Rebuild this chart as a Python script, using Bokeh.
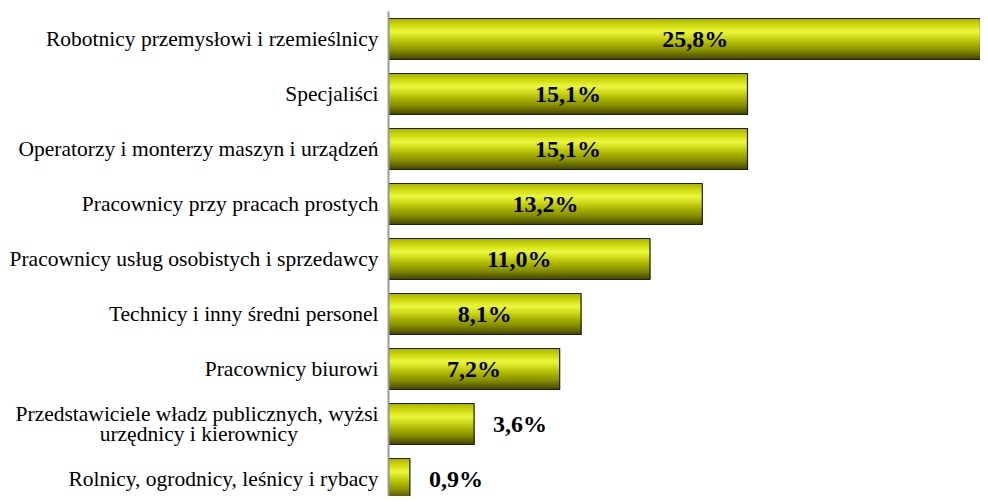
from bokeh.plotting import figure
from bokeh.models import Range1d, ColumnDataSource
from bokeh.core.properties import value
from bokeh.embed import file_html
from bokeh.resources import INLINE

categories = [
    "Robotnicy przemysłowi i rzemieślnicy",
    "Specjaliści",
    "Operatorzy i monterzy maszyn i urządzeń",
    "Pracownicy przy pracach prostych",
    "Pracownicy usług osobistych i sprzedawcy",
    "Technicy i inny średni personel",
    "Pracownicy biurowi",
    "Przedstawiciele władz publicznych, wyżsi\nurzędnicy i kierownicy" + "\u00a0" * 15,
    "Rolnicy, ogrodnicy, leśnicy i rybacy",
]
values = [25.8, 15.1, 15.1, 13.2, 11.0, 8.1, 7.2, 3.6, 0.9]
labels = ["25,8%", "15,1%", "15,1%", "13,2%", "11,0%", "8,1%", "7,2%", "3,6%", "0,9%"]

SERIF = "Liberation Serif"
BAR_H = 0.745
idx = list(range(len(values)))

p = figure(width=980, height=496, output_backend="svg", toolbar_location=None,
           x_range=Range1d(0, 24.9), y_range=Range1d(8.318, -0.5),
           x_axis_location=None, min_border_left=388, min_border_right=0,
           min_border_top=11, min_border_bottom=0)
p.outline_line_color = None
p.grid.visible = False
p.background_fill_color = "white"

# cylinder-like gradient emulated by overlapping strips
stops = [(0.00, (0xa8, 0xb2, 0x00)), (0.15, (0xcc, 0xd8, 0x0a)), (0.32, (0xea, 0xf6, 0x40)),
         (0.46, (0xce, 0xda, 0x1a)), (0.62, (0xaa, 0xb2, 0x00)), (0.78, (0x86, 0x8e, 0x00)),
         (0.92, (0x5a, 0x60, 0x00)), (1.00, (0x40, 0x44, 0x00))]

def col(t):
    for (a, ca), (b, cb) in zip(stops[:-1], stops[1:]):
        if a <= t <= b:
            f = (t - a) / (b - a)
            return "#%02x%02x%02x" % tuple(int(round(x + (y - x) * f)) for x, y in zip(ca, cb))
    return "#%02x%02x%02x" % stops[-1][1]

N = 30
for k in range(N):
    t0 = k / N
    top = [i - BAR_H / 2 + t0 * BAR_H for i in idx]
    bot = [i + BAR_H / 2 for i in idx]
    p.hbar(y=[(a + b) / 2 for a, b in zip(top, bot)], height=BAR_H * (1 - t0), left=0,
           right=values, fill_color=col(t0 + 0.5 / N), line_color=None)

p.hbar(y=idx, height=BAR_H, left=0, right=values, fill_color=None,
       line_color="#1e1e1e", line_width=1.2)

inside = [v >= 5 for v in values]
src_in = ColumnDataSource(dict(x=[v / 2 for v, f in zip(values, inside) if f],
                               y=[i for i, f in zip(idx, inside) if f],
                               t=[l for l, f in zip(labels, inside) if f]))
src_out = ColumnDataSource(dict(x=[v for v, f in zip(values, inside) if not f],
                                y=[i for i, f in zip(idx, inside) if not f],
                                t=[l for l, f in zip(labels, inside) if not f]))
p.text(x="x", y="y", text="t", source=src_in, text_align="center", text_baseline="middle",
       text_font=value(SERIF), text_font_style="bold", text_font_size="24px", text_color="black")
p.text(x="x", y="y", text="t", source=src_out, text_align="left", text_baseline="middle",
       x_offset=19, text_font=value(SERIF), text_font_style="bold", text_font_size="24px",
       text_color="black")

ax = p.yaxis[0]
ax.ticker = idx
ax.major_label_overrides = {i: c for i, c in zip(idx, categories)}
ax.major_label_text_font = SERIF
ax.major_label_text_font_size = "21.5px"
ax.major_label_text_line_height = 0.85
ax.major_label_text_color = "black"
ax.major_label_standoff = 4
ax.major_tick_line_color = None
ax.minor_tick_line_color = None
ax.axis_line_color = "#9a9a9a"
ax.axis_line_width = 2

open("out.html", "w").write(file_html(p, INLINE))
